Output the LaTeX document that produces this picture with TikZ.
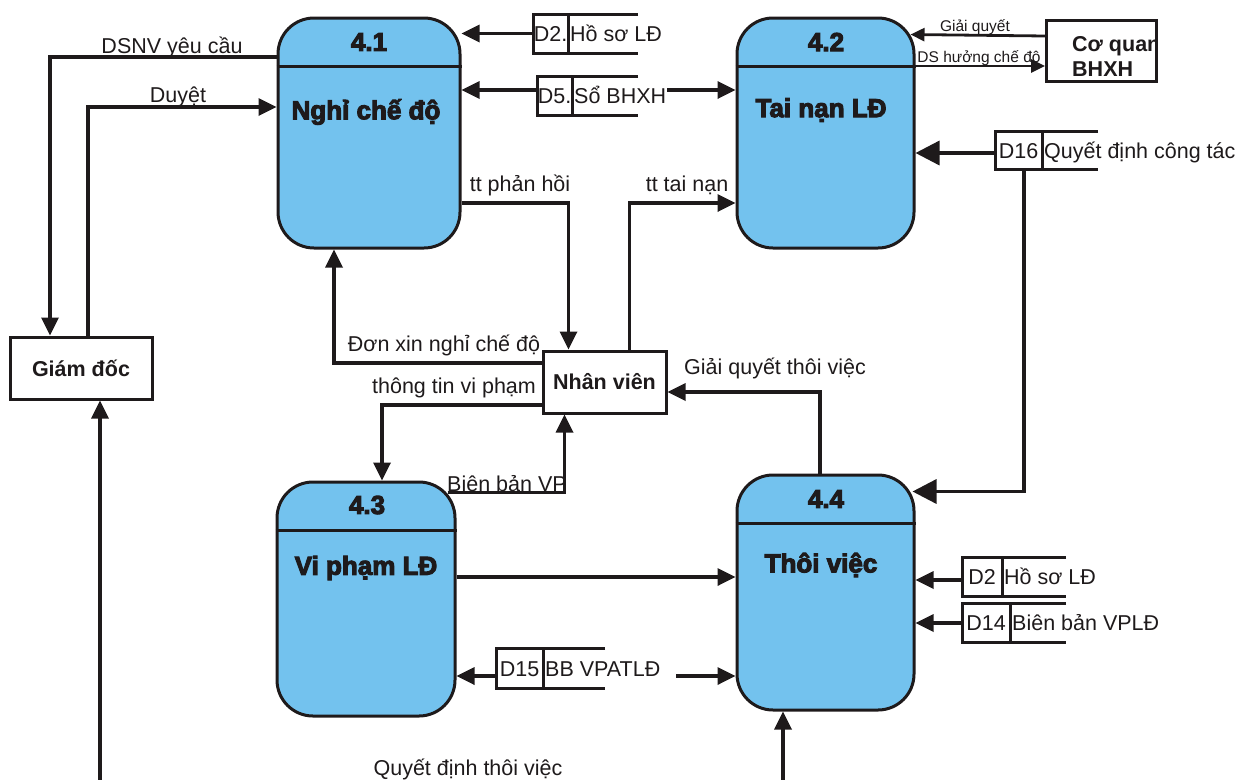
\documentclass[tikz,border=0pt]{standalone}
\usepackage{fontspec}
\setmainfont{Liberation Sans}
\newfontfamily\heavyfont[FakeBold=4]{Liberation Sans Bold}
\usetikzlibrary{arrows.meta,fit,calc}
\definecolor{procblue}{RGB}{115,194,238}
\definecolor{ink}{RGB}{30,26,27}
\newcommand\lblfont{\fontsize{21.5}{24}\selectfont}
\newcommand\smlblfont{\fontsize{15.5}{17}\selectfont}
\newcommand\proctitlefont{\heavyfont\fontsize{26}{28}\selectfont}
\newcommand\entfont{\bfseries\fontsize{21.5}{25}\selectfont}
\tikzset{
  proc/.style={draw=ink, line width=3pt, fill=procblue, rounded corners=36pt, inner sep=0pt},
  entity/.style={draw=ink, line width=3pt, fill=white, inner sep=0pt, font=\entfont, text=ink},
  flow/.style={draw=ink, line width=3.4pt, -{Triangle[length=18pt,width=17pt]}},
  bigflow/.style={draw=ink, line width=3.4pt, -{Triangle[length=24pt,width=24pt]}},
  smallflow/.style={draw=ink, line width=2.8pt, -{Triangle[length=14pt,width=13pt]}},
  storeline/.style={draw=ink, line width=3pt},
  lbl/.style={font=\lblfont, text=ink, inner sep=1pt},
  smlbl/.style={font=\smlblfont, text=ink, inner sep=1pt},
  storetext/.style={font=\lblfont, text=ink, inner sep=1pt, anchor=base},
  ptitle/.style={font=\proctitlefont, text=ink, inner sep=0pt},
}
% data store: name, left x, top y, right x, bottom y, divider x, id, label
\newcommand\dstore[8]{%
  \path (#2,#3) coordinate (#1-nw) (#4,#5) coordinate (#1-se);
  \node[fit=(#1-nw)(#1-se), inner sep=0pt] (#1) {};
  \draw[storeline] (#4,#3) -- (#2,#3) -- (#2,#5) -- (#4,#5);
  \draw[storeline] (#6,#3) -- (#6,#5);
  \node[storetext] (#1-id) at ({(#2+#6)/2},{(#3+#5)/2+8}) {#7};
  \node[storetext, anchor=base west] (#1-lb) at ({#6+1},{(#3+#5)/2+8}) {#8};
}
\begin{document}
\begin{tikzpicture}[x=1pt,y=-1pt]
\useasboundingbox (0,0) rectangle (1241,779);

% processes
\node[proc, minimum width=182pt, minimum height=230pt] (p41) at (369,133) {};
\node[proc, minimum width=177pt, minimum height=230pt] (p42) at (825.5,133) {};
\node[proc, minimum width=178pt, minimum height=234pt] (p43) at (366,599) {};
\node[proc, minimum width=177pt, minimum height=235pt] (p44) at (825.5,592.5) {};
\draw[storeline] (p41.west |- 0,66) -- (p41.east |- 0,66);
\draw[storeline] (p42.west |- 0,66) -- (p42.east |- 0,66);
\draw[storeline] (p43.west |- 0,530) -- (p43.east |- 0,530);
\draw[storeline] (p44.west |- 0,523) -- (p44.east |- 0,523);
\node[ptitle] (p41-n) at (369,42) {4.1};
\node[ptitle] (p41-t) at (366,112) {Nghỉ chế độ};
\node[ptitle] (p42-n) at (826,42) {4.2};
\node[ptitle] (p42-t) at (821,110) {Tai nạn LĐ};
\node[ptitle] (p43-n) at (367,505) {4.3};
\node[ptitle] (p43-t) at (366,568) {Vi phạm LĐ};
\node[ptitle] (p44-n) at (826,499) {4.4};
\node[ptitle] (p44-t) at (821,565) {Thôi việc};

% external entities
\node[entity, minimum width=142pt, minimum height=62pt] (gd) at (81,368) {Giám đốc};
\node[entity, minimum width=123pt, minimum height=62pt] (nv) at (604.5,382) {Nhân viên};
\node[entity, minimum width=110pt, minimum height=61pt] (cq) at (1101.5,50.5) {};
\begin{scope}
  \clip (1047,20) rectangle (1155.5,81);
  \node[font=\entfont, text=ink, anchor=west, align=left, inner sep=0pt] (cq-txt) at (1072,56) {Cơ quan\\BHXH};
\end{scope}

% data stores
\dstore{d2a}{533}{14}{638}{53}{568}{D2.}{Hồ sơ LĐ}
\dstore{d5}{537}{76}{638}{115}{572}{D5.}{Sổ BHXH}
\dstore{d16}{995}{131}{1098}{169}{1042}{D16}{Quyết định công tác}
\dstore{d2b}{962}{557}{1066}{596}{1002}{D2}{Hồ sơ LĐ}
\dstore{d14}{962}{603}{1066}{642}{1010}{D14}{Biên bản VPLĐ}
\dstore{d15}{496}{648}{605}{688}{543}{D15}{BB VPATLĐ}

% flows between director and 4.1
\draw[flow] (p41.west |- 0,57) -| ([xshift=-31]gd.north);
\draw[flow] ([xshift=7]gd.north) |- (p41.west |- 0,107);
\node[lbl] (l-dsnv) at (172,47) {DSNV yêu cầu};
\node[lbl] (l-duyet) at (178,97) {Duyệt};

% flows around the employee
\draw[flow] (p41.east |- 0,203) -| ([xshift=-36]nv.north);
\node[lbl] (l-ph) at (520,185) {tt phản hồi};
\draw[flow] ([xshift=25]nv.north) |- (p42.west |- 0,203);
\node[lbl] (l-tn) at (687,185) {tt tai nạn};
\draw[flow] (nv.west |- 0,363) -| (p41.south -| 334,0);
\node[lbl] (l-don) at (444,345) {Đơn xin nghỉ chế độ};
\draw[flow] (nv.west |- 0,405) -| (p43.north -| 382,0);
\node[lbl] (l-ttvp) at (454,388) {thông tin vi phạm};
\draw[flow] ([shift={(-9,12)}]p43.north east) -| ([xshift=-40]nv.south);
\node[lbl] (l-bbvp) at (507,484) {Biên bản VP};
\draw[flow] (p44.north -| 820,0) |- (nv.east |- 0,392);
\node[lbl] (l-gqtv) at (775,368) {Giải quyết thôi việc};

% 4.3 to 4.4
\draw[flow] (p43.east |- 0,577) -- (p44.west |- 0,577);

% stores feeding 4.1 and 4.2
\draw[flow] (d2a.west) -- (p41.east |- d2a.west);
\draw[flow] (d5.west |- 0,90) -- (p41.east |- 0,90);
\draw[flow] (d5-lb.east |- 0,90) -- (p42.west |- 0,90);

% social insurance office
\draw[smallflow] (cq.west |- 0,36) -- ([shift={(-5,18)}]p42.north east);
\node[smlbl] (l-gq) at (975,27) {Giải quyết};
\draw[smallflow] (p42.east |- 0,66) -- (cq.west |- 0,66);
\node[smlbl] (l-ds) at (979,58) {DS hưởng chế độ};

% work decision store
\draw[bigflow] (d16.west |- 0,153) -- (p42.east |- 0,153);
\draw[bigflow] (d16.south -| 1024,0) |- ([shift={(-3,18)}]p44.north east);

% stores feeding 4.4
\draw[flow] (d2b.west |- 0,580) -- (p44.east |- 0,580);
\draw[flow] (d14.west |- 0,623) -- (p44.east |- 0,623);
\draw[flow] (d15.west |- 0,676) -- (p43.east |- 0,676);
\coordinate (d15out) at (676,676);
\draw[flow] (d15out) -- (p44.west |- 0,676);

% termination decision along the bottom edge
\coordinate (qb) at (440,783);
\draw[flow] (qb) -| (gd.south -| 100,0);
\draw[flow] (qb) -| (p44.south -| 783,0);
\node[lbl] (l-qd) at (468,769) {Quyết định thôi việc};
\end{tikzpicture}
\end{document}
